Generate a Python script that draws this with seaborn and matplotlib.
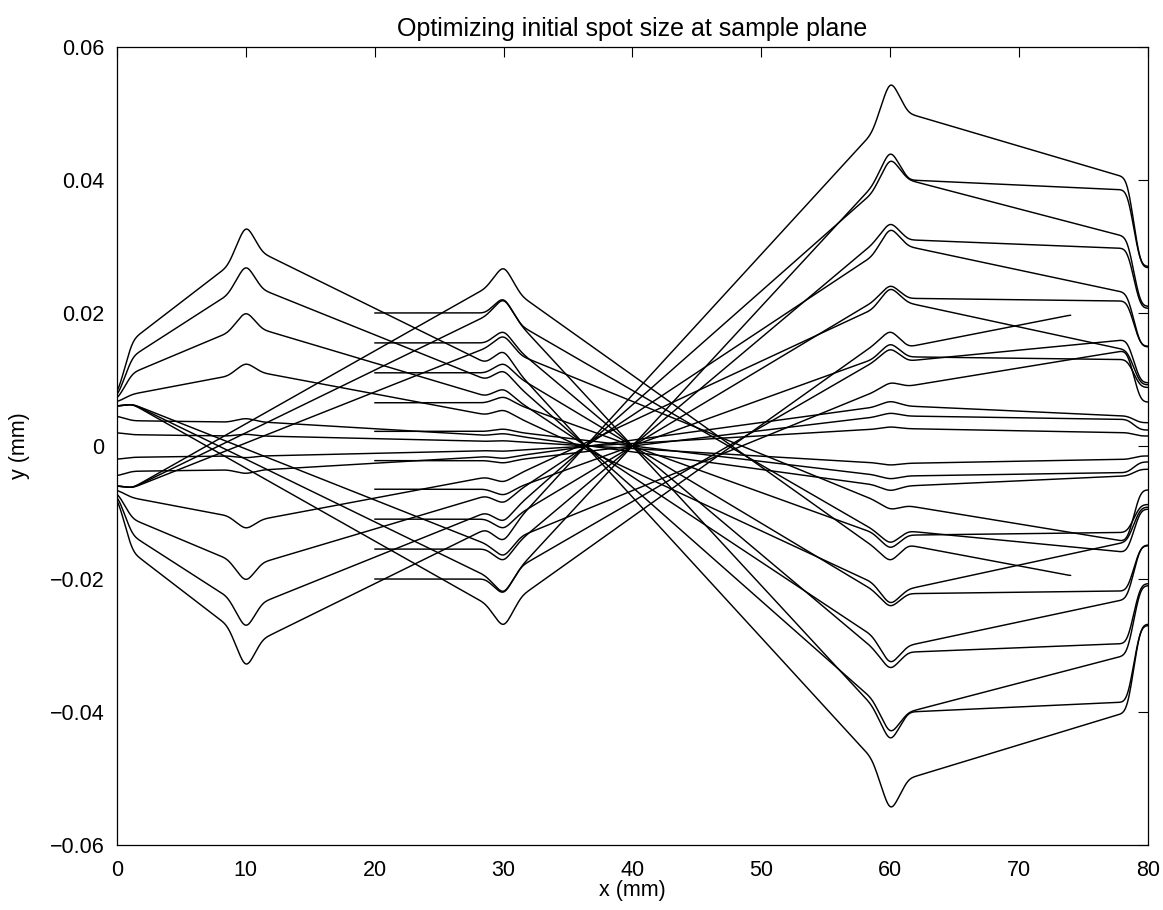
import numpy as np
import pandas as pd
import matplotlib
matplotlib.use("Agg")
import matplotlib.pyplot as plt
import seaborn as sns
from matplotlib.ticker import FuncFormatter

# ---------------- data ----------------
# Family A: rays starting at x = 0, bent by the lenses at 10, 30, 60 and 79
A_X = [0, 1.2, 8.6, 10, 11.3, 28.6, 30, 31.4, 58.6, 60, 61.4, 78.4, 79.4, 80]
A_UP = [
    [0.0075, 0.0160, 0.0270, 0.0335, 0.0290, 0.0125, 0.0145, 0.0105, -0.0470, -0.0553, -0.0500, -0.0400, -0.0268, -0.0268],
    [0.0072, 0.0135, 0.0227, 0.0275, 0.0235, 0.0100, 0.0115, 0.0085, -0.0380, -0.0435, -0.0400, -0.0314, -0.0210, -0.0210],
    [0.0069, 0.0110, 0.0170, 0.0204, 0.0175, 0.0075, 0.0087, 0.0064, -0.0285, -0.0330, -0.0300, -0.0230, -0.0149, -0.0149],
    [0.0066, 0.0078, 0.0105, 0.0126, 0.0110, 0.0047, 0.0055, 0.0040, -0.0205, -0.0240, -0.0215, -0.0144, -0.0092, -0.0092],
    [0.0045, 0.0038, 0.0036, 0.0042, 0.0036, 0.0016, 0.0019, 0.0014, -0.0058, -0.0068, -0.0060, -0.0045, -0.0035, -0.0035],
    [0.0020, 0.0017, 0.0015, 0.0018, 0.0015, 0.0007, 0.0008, 0.0006, -0.0025, -0.0029, -0.0026, -0.0020, -0.0015, -0.0015],
]
A_LO = [
    [-0.0075, -0.0160, -0.0270, -0.0337, -0.0290, -0.0125, -0.0145, -0.0105, 0.0470, 0.0553, 0.0500, 0.0403, 0.0268, 0.0268],
    [-0.0072, -0.0135, -0.0227, -0.0277, -0.0235, -0.0100, -0.0115, -0.0085, 0.0380, 0.0435, 0.0400, 0.0314, 0.0210, 0.0210],
    [-0.0069, -0.0110, -0.0170, -0.0206, -0.0175, -0.0075, -0.0087, -0.0064, 0.0285, 0.0330, 0.0300, 0.0230, 0.0149, 0.0149],
    [-0.0066, -0.0078, -0.0105, -0.0126, -0.0110, -0.0047, -0.0055, -0.0040, 0.0205, 0.0240, 0.0215, 0.0144, 0.0092, 0.0092],
    [-0.0045, -0.0038, -0.0036, -0.0042, -0.0036, -0.0016, -0.0019, -0.0014, 0.0058, 0.0068, 0.0060, 0.0045, 0.0035, 0.0035],
    [-0.0020, -0.0017, -0.0015, -0.0018, -0.0015, -0.0007, -0.0008, -0.0006, 0.0025, 0.0029, 0.0026, 0.0020, 0.0015, 0.0015],
]

# Family B: parallel rays starting at x = 20, focused at the sample plane x = 40
B_X = [20, 28.6, 30, 31.4, 58.6, 60, 61.4, 78.4, 79.4, 80]
B_UP = [
    [0.0200, 0.0200, 0.0225, 0.0180, -0.0390, -0.0447, -0.0400, -0.0385, -0.0270, -0.0270],
    [0.0155, 0.0155, 0.0175, 0.0140, -0.0303, -0.0338, -0.0310, -0.0297, -0.0207, -0.0207],
    [0.0110, 0.0110, 0.0126, 0.0100, -0.0216, -0.0244, -0.0222, -0.0218, -0.0150, -0.0150],
    [0.0065, 0.0065, 0.0075, 0.0060, -0.0130, -0.0156, -0.0134, -0.0130, -0.0088, -0.0088],
    [0.0022, 0.0022, 0.0026, 0.0020, -0.0043, -0.0050, -0.0045, -0.0040, -0.0024, -0.0024],
]
B_LO = [
    [-0.0200, -0.0200, -0.0225, -0.0180, 0.0390, 0.0447, 0.0400, 0.0385, 0.0270, 0.0270],
    [-0.0155, -0.0155, -0.0175, -0.0140, 0.0303, 0.0338, 0.0310, 0.0297, 0.0207, 0.0207],
    [-0.0110, -0.0110, -0.0126, -0.0100, 0.0216, 0.0244, 0.0222, 0.0218, 0.0150, 0.0150],
    [-0.0065, -0.0065, -0.0075, -0.0060, 0.0130, 0.0156, 0.0134, 0.0130, 0.0088, 0.0088],
    [-0.0022, -0.0022, -0.0026, -0.0020, 0.0043, 0.0050, 0.0045, 0.0040, 0.0024, 0.0024],
]

# Family C: rays starting near x = 0 that cross the axis before the lens at 10
C1_X = [0, 1.2, 28.6, 30, 31.4, 58.6, 60, 61.4, 74]
C1_UP = [0.0060, 0.0063, -0.0237, -0.0275, -0.0225, 0.0150, 0.0175, 0.0149, 0.0197]
C1_LO = [-0.0060, -0.0063, 0.0237, 0.0273, 0.0225, -0.0150, -0.0175, -0.0149, -0.0195]
C_X = [0, 1.2, 28.6, 30, 31.4, 58.6, 60, 61.4, 78.4, 79.4, 80]
C_UP = [
    [0.0060, 0.0063, -0.0195, -0.0224, -0.0180, 0.0125, 0.0148, 0.0128, 0.0160, 0.0095, 0.0095],
    [0.0060, 0.0063, -0.0147, -0.0168, -0.0135, 0.0080, 0.0096, 0.0090, 0.0144, 0.0066, 0.0066],
]
C_LO = [
    [-0.0060, -0.0063, 0.0195, 0.0224, 0.0180, -0.0125, -0.0148, -0.0128, -0.0160, -0.0095, -0.0095],
    [-0.0060, -0.0063, 0.0147, 0.0168, 0.0135, -0.0080, -0.0096, -0.0090, -0.0144, -0.0066, -0.0066],
]

X_TICKS = [0, 10, 20, 30, 40, 50, 60, 70, 80]
Y_TICKS = [-0.06, -0.04, -0.02, 0, 0.02, 0.04, 0.06]
TITLE = "Optimizing initial spot size at sample plane"
X_LABEL = "x (mm)"
Y_LABEL = "y (mm)"


# ---------------- rendering helpers ----------------
def densify(xs, ys, step=0.04, sigma=0.28):
    xs = np.asarray(xs, float)
    ys = np.asarray(ys, float)
    xd = np.arange(xs[0], xs[-1] + 1e-9, step)
    yd = np.interp(xd, xs, ys)
    n = int(3 * sigma / step)
    k = np.exp(-0.5 * (np.arange(-n, n + 1) * step / sigma) ** 2)
    k /= k.sum()
    yp = np.pad(yd, n, mode="edge")
    return xd, np.convolve(yp, k, mode="valid")


rays = []
for ys in A_UP + A_LO:
    rays.append((A_X, ys))
for ys in B_UP + B_LO:
    rays.append((B_X, ys))
rays.append((C1_X, C1_UP))
rays.append((C1_X, C1_LO))
for ys in C_UP + C_LO:
    rays.append((C_X, ys))

frames = []
for i, (xs, ys) in enumerate(rays):
    xd, yd = densify(xs, ys)
    frames.append(pd.DataFrame({"ray": i, "x": xd, "y": yd}))
df = pd.concat(frames, ignore_index=True)

# ---------------- figure ----------------
sns.set_theme(style="white")
plt.rcParams["font.family"] = ["Liberation Sans", "DejaVu Sans"]
plt.rcParams["text.color"] = "black"
plt.rcParams["axes.labelcolor"] = "black"

fig = plt.figure(figsize=(11.63, 9.10), dpi=100)
ax = fig.add_axes([0.1006, 0.0714, 0.8865, 0.8770])

sns.lineplot(data=df, x="x", y="y", units="ray", estimator=None, sort=False,
             color="black", linewidth=1.05, legend=False, ax=ax)

ax.set_xlim(0, 80)
ax.set_ylim(-0.06, 0.06)
ax.set_xticks(X_TICKS)
ax.set_yticks(Y_TICKS)
ax.yaxis.set_major_formatter(FuncFormatter(
    lambda v, p: "0" if abs(v) < 1e-12 else f"{v:.2f}".replace("-", "\u2212")))
ax.tick_params(direction="in", top=True, right=True, length=7, width=0.8,
               labelsize=15.5, colors="black")
ax.tick_params(axis="y", pad=9)
ax.tick_params(axis="x", pad=11)
for s in ax.spines.values():
    s.set_visible(True)
    s.set_color("black")
    s.set_linewidth(0.9)

ax.set_title(TITLE, fontsize=18, pad=8, color="black")
ax.set_xlabel(X_LABEL, fontsize=15.5, labelpad=-1)
ax.set_ylabel(Y_LABEL, fontsize=15.5, labelpad=14)

fig.savefig("out.png", dpi=100, facecolor="white")
